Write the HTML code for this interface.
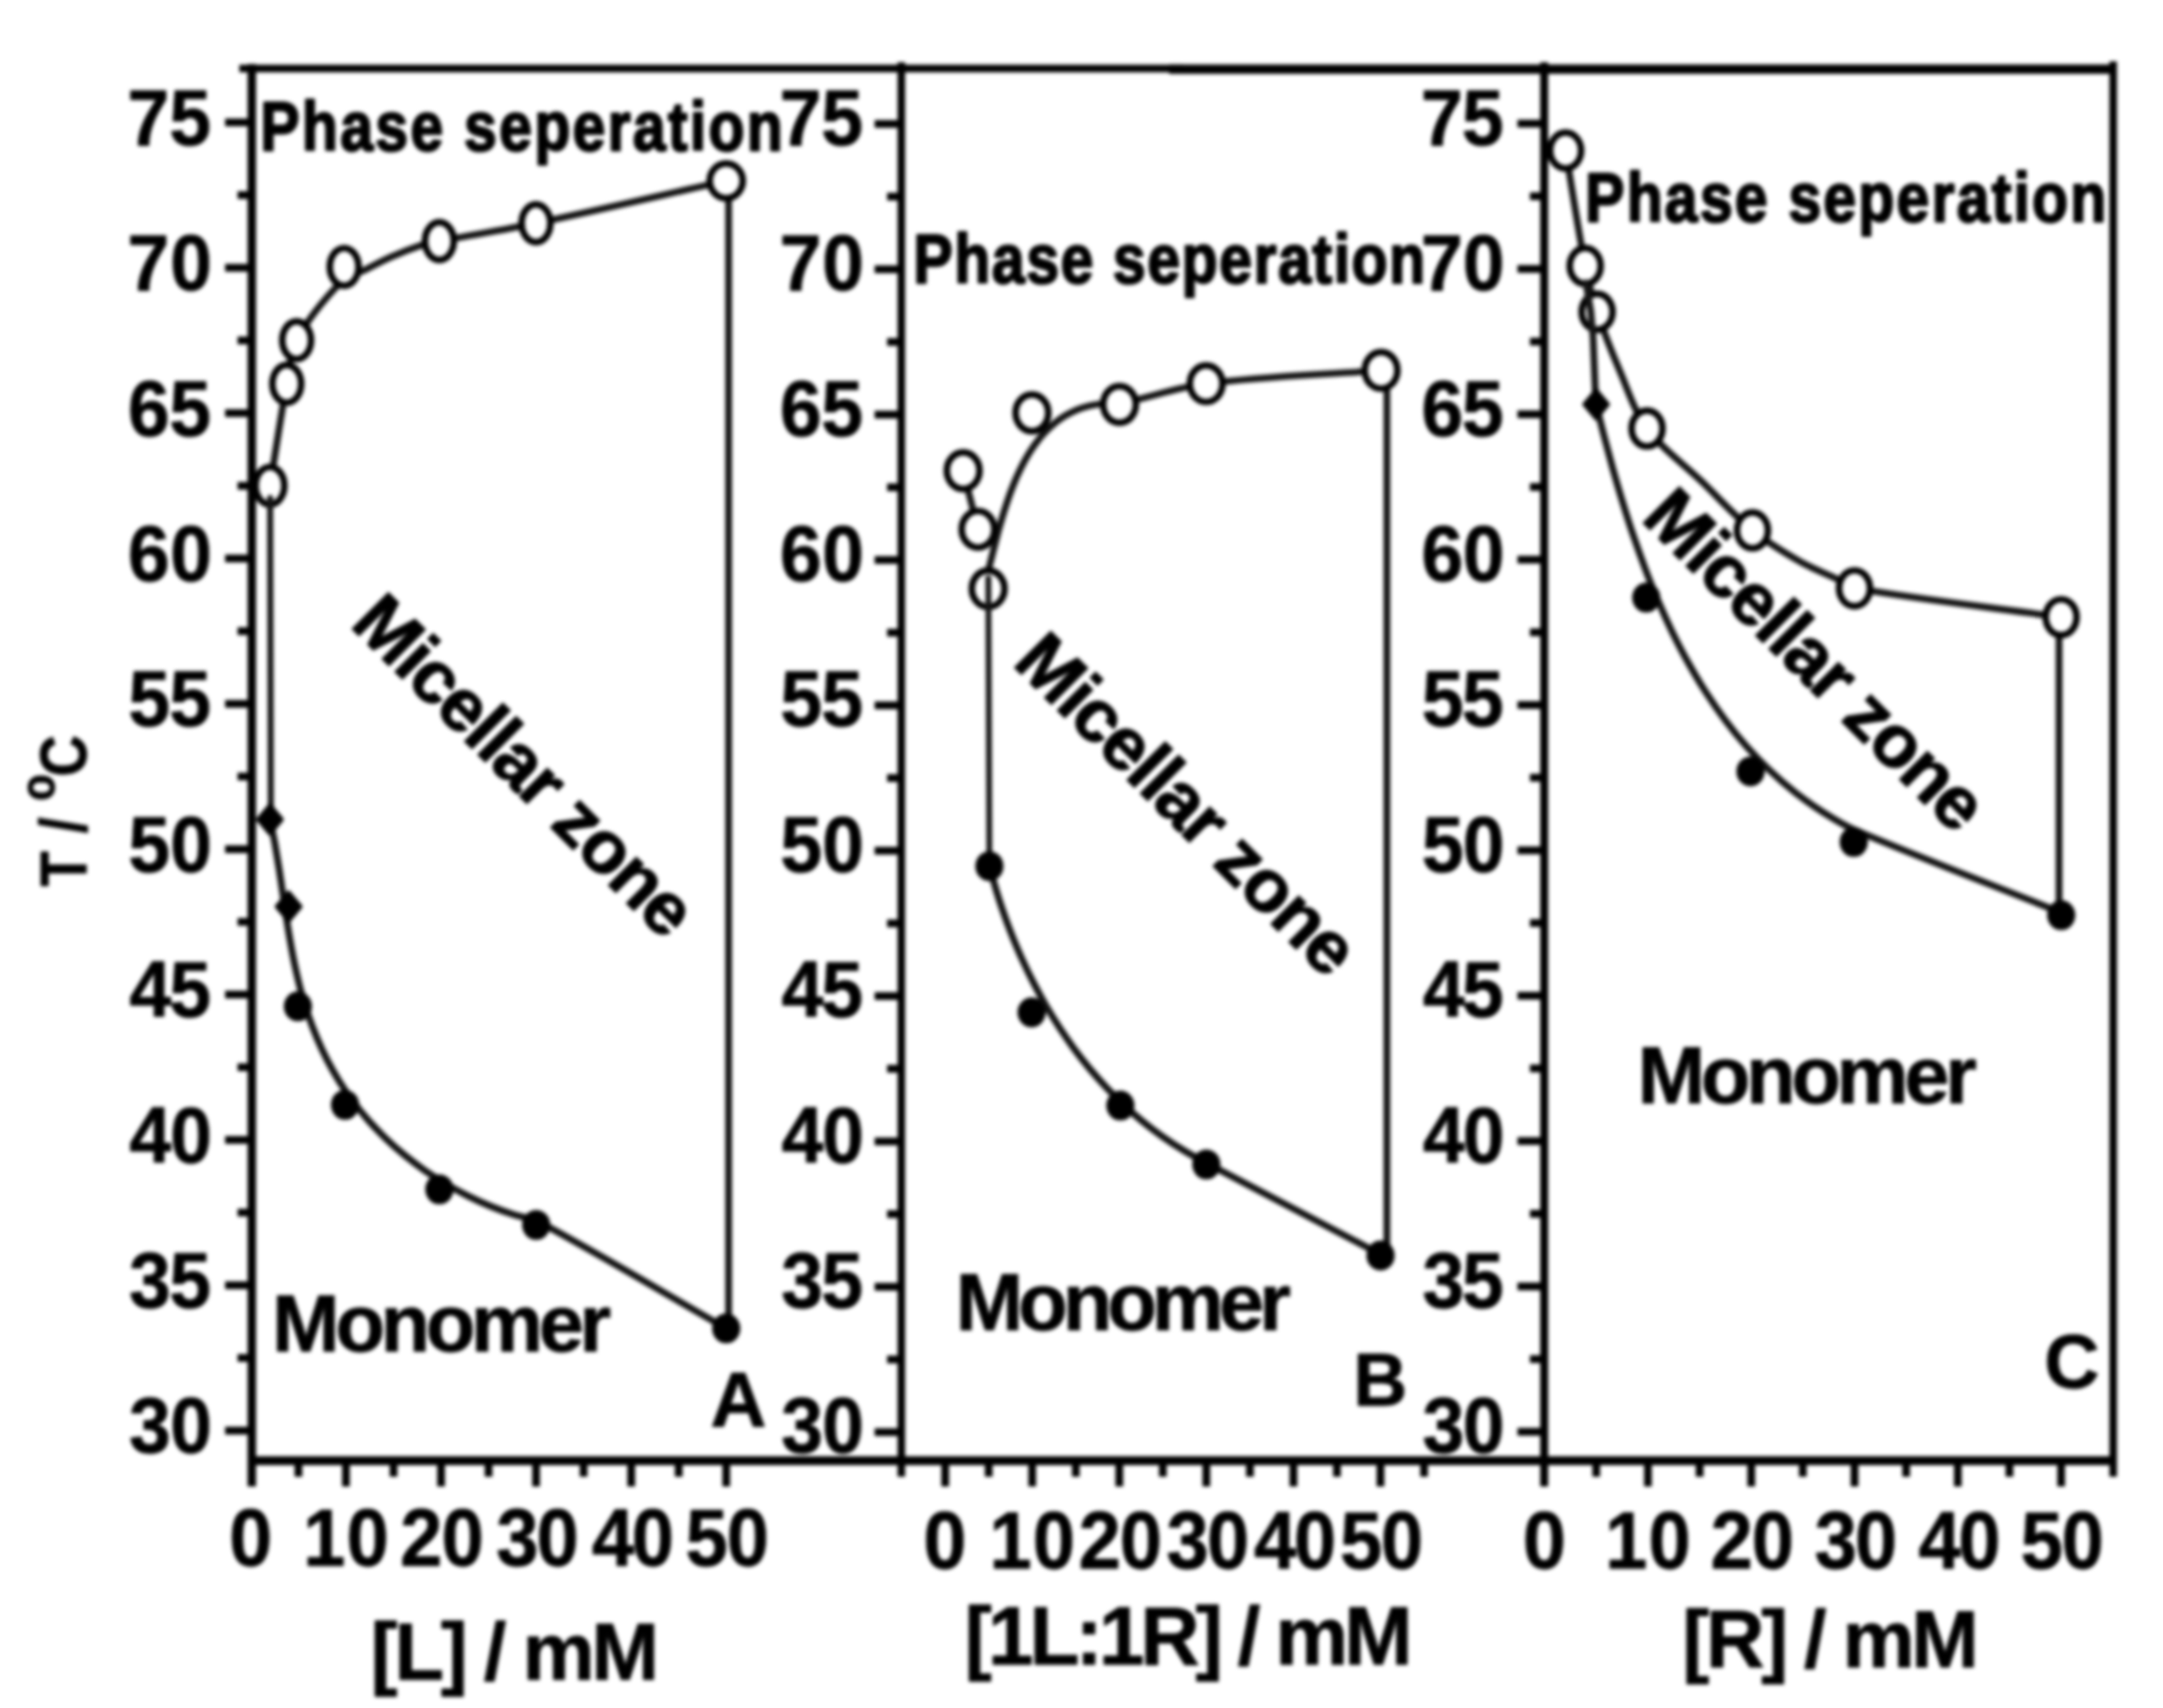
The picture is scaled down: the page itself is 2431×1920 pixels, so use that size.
<!DOCTYPE html>
<html lang="en">
<head>
<meta charset="utf-8">
<title>Phase diagrams: phase separation, micellar zone, monomer</title>
<style>
html,body{margin:0;padding:0;background:#fff;}
body{width:2431px;height:1920px;overflow:hidden;}
svg{display:block;filter:blur(2px);}
</style>
</head>
<body>
<svg width="2431" height="1920" viewBox="0 0 2431 1920">
<rect x="0" y="0" width="2431" height="1920" fill="#fff"/>
<g stroke="#000" fill="none" stroke-linecap="butt">
<line x1="269" y1="77.0" x2="1330" y2="77.0" stroke-width="8.5"/>
<line x1="1314" y1="77.8" x2="2379.0" y2="77.8" stroke-width="10.5"/>
<line x1="279.5" y1="1642.0" x2="2379.0" y2="1642.0" stroke-width="10"/>
<line x1="283" y1="72" x2="283" y2="1671" stroke-width="9.5"/>
<line x1="1013" y1="70" x2="1013" y2="1660" stroke-width="8.5"/>
<line x1="1735.5" y1="70" x2="1735.5" y2="1671" stroke-width="9"/>
<line x1="2375.0" y1="69" x2="2375.0" y2="1660" stroke-width="8.5"/>
</g>
<g stroke="#000" stroke-width="8.7" stroke-linecap="butt">
<line x1="253" y1="1608.2" x2="283" y2="1608.2"/>
<line x1="267" y1="1526.5" x2="283" y2="1526.5"/>
<line x1="253" y1="1444.8" x2="283" y2="1444.8"/>
<line x1="267" y1="1363.1" x2="283" y2="1363.1"/>
<line x1="253" y1="1281.4" x2="283" y2="1281.4"/>
<line x1="267" y1="1199.7" x2="283" y2="1199.7"/>
<line x1="253" y1="1118" x2="283" y2="1118"/>
<line x1="267" y1="1036.3" x2="283" y2="1036.3"/>
<line x1="253" y1="954.6" x2="283" y2="954.6"/>
<line x1="267" y1="872.9" x2="283" y2="872.9"/>
<line x1="253" y1="791.2" x2="283" y2="791.2"/>
<line x1="267" y1="709.5" x2="283" y2="709.5"/>
<line x1="253" y1="627.8" x2="283" y2="627.8"/>
<line x1="267" y1="546.1" x2="283" y2="546.1"/>
<line x1="253" y1="464.4" x2="283" y2="464.4"/>
<line x1="267" y1="382.7" x2="283" y2="382.7"/>
<line x1="253" y1="301" x2="283" y2="301"/>
<line x1="267" y1="219.3" x2="283" y2="219.3"/>
<line x1="253" y1="137.6" x2="283" y2="137.6"/>
<line x1="983" y1="1609.9" x2="1013" y2="1609.9"/>
<line x1="997" y1="1528.2" x2="1013" y2="1528.2"/>
<line x1="983" y1="1446.5" x2="1013" y2="1446.5"/>
<line x1="997" y1="1364.8" x2="1013" y2="1364.8"/>
<line x1="983" y1="1283.1" x2="1013" y2="1283.1"/>
<line x1="997" y1="1201.4" x2="1013" y2="1201.4"/>
<line x1="983" y1="1119.7" x2="1013" y2="1119.7"/>
<line x1="997" y1="1038" x2="1013" y2="1038"/>
<line x1="983" y1="956.3" x2="1013" y2="956.3"/>
<line x1="997" y1="874.6" x2="1013" y2="874.6"/>
<line x1="983" y1="792.9" x2="1013" y2="792.9"/>
<line x1="997" y1="711.2" x2="1013" y2="711.2"/>
<line x1="983" y1="629.5" x2="1013" y2="629.5"/>
<line x1="997" y1="547.8" x2="1013" y2="547.8"/>
<line x1="983" y1="466.1" x2="1013" y2="466.1"/>
<line x1="997" y1="384.4" x2="1013" y2="384.4"/>
<line x1="983" y1="302.7" x2="1013" y2="302.7"/>
<line x1="997" y1="221" x2="1013" y2="221"/>
<line x1="983" y1="139.3" x2="1013" y2="139.3"/>
<line x1="1705.5" y1="1609.5" x2="1735.5" y2="1609.5"/>
<line x1="1719.5" y1="1527.8" x2="1735.5" y2="1527.8"/>
<line x1="1705.5" y1="1446.1" x2="1735.5" y2="1446.1"/>
<line x1="1719.5" y1="1364.4" x2="1735.5" y2="1364.4"/>
<line x1="1705.5" y1="1282.7" x2="1735.5" y2="1282.7"/>
<line x1="1719.5" y1="1201" x2="1735.5" y2="1201"/>
<line x1="1705.5" y1="1119.3" x2="1735.5" y2="1119.3"/>
<line x1="1719.5" y1="1037.6" x2="1735.5" y2="1037.6"/>
<line x1="1705.5" y1="955.9" x2="1735.5" y2="955.9"/>
<line x1="1719.5" y1="874.2" x2="1735.5" y2="874.2"/>
<line x1="1705.5" y1="792.5" x2="1735.5" y2="792.5"/>
<line x1="1719.5" y1="710.8" x2="1735.5" y2="710.8"/>
<line x1="1705.5" y1="629.1" x2="1735.5" y2="629.1"/>
<line x1="1719.5" y1="547.4" x2="1735.5" y2="547.4"/>
<line x1="1705.5" y1="465.7" x2="1735.5" y2="465.7"/>
<line x1="1719.5" y1="384" x2="1735.5" y2="384"/>
<line x1="1705.5" y1="302.3" x2="1735.5" y2="302.3"/>
<line x1="1719.5" y1="220.6" x2="1735.5" y2="220.6"/>
<line x1="1705.5" y1="138.9" x2="1735.5" y2="138.9"/>
<line x1="335.4" y1="1642.0" x2="335.4" y2="1660.0"/>
<line x1="388.8" y1="1642.0" x2="388.8" y2="1671.0"/>
<line x1="442.3" y1="1642.0" x2="442.3" y2="1660.0"/>
<line x1="495.7" y1="1642.0" x2="495.7" y2="1671.0"/>
<line x1="549.1" y1="1642.0" x2="549.1" y2="1660.0"/>
<line x1="602.5" y1="1642.0" x2="602.5" y2="1671.0"/>
<line x1="655.9" y1="1642.0" x2="655.9" y2="1660.0"/>
<line x1="709.4" y1="1642.0" x2="709.4" y2="1671.0"/>
<line x1="762.8" y1="1642.0" x2="762.8" y2="1660.0"/>
<line x1="816.2" y1="1642.0" x2="816.2" y2="1671.0"/>
<line x1="1062.3" y1="1642.0" x2="1062.3" y2="1671.0"/>
<line x1="1111.2" y1="1642.0" x2="1111.2" y2="1660.0"/>
<line x1="1160.1" y1="1642.0" x2="1160.1" y2="1671.0"/>
<line x1="1209.1" y1="1642.0" x2="1209.1" y2="1660.0"/>
<line x1="1258" y1="1642.0" x2="1258" y2="1671.0"/>
<line x1="1306.9" y1="1642.0" x2="1306.9" y2="1660.0"/>
<line x1="1355.8" y1="1642.0" x2="1355.8" y2="1671.0"/>
<line x1="1404.8" y1="1642.0" x2="1404.8" y2="1660.0"/>
<line x1="1453.7" y1="1642.0" x2="1453.7" y2="1671.0"/>
<line x1="1502.6" y1="1642.0" x2="1502.6" y2="1660.0"/>
<line x1="1551.5" y1="1642.0" x2="1551.5" y2="1671.0"/>
<line x1="1600.5" y1="1642.0" x2="1600.5" y2="1660.0"/>
<line x1="1794" y1="1642.0" x2="1794" y2="1660.0"/>
<line x1="1852.1" y1="1642.0" x2="1852.1" y2="1671.0"/>
<line x1="1910.2" y1="1642.0" x2="1910.2" y2="1660.0"/>
<line x1="1968.2" y1="1642.0" x2="1968.2" y2="1671.0"/>
<line x1="2026.2" y1="1642.0" x2="2026.2" y2="1660.0"/>
<line x1="2084.3" y1="1642.0" x2="2084.3" y2="1671.0"/>
<line x1="2142.3" y1="1642.0" x2="2142.3" y2="1660.0"/>
<line x1="2200.4" y1="1642.0" x2="2200.4" y2="1671.0"/>
<line x1="2258.4" y1="1642.0" x2="2258.4" y2="1660.0"/>
<line x1="2316.5" y1="1642.0" x2="2316.5" y2="1671.0"/>
</g>
<g font-family="Liberation Sans, Arial, Helvetica, sans-serif" font-weight="bold" fill="#000" stroke="#000" stroke-width="0.9" stroke-linejoin="round">
<text transform="translate(145,1633.3) scale(0.94,1)" font-size="89.8" letter-spacing="-0.77">30</text>
<text transform="translate(145,1469.9) scale(0.94,1)" font-size="89.8" letter-spacing="-1.89">35</text>
<text transform="translate(145.6,1306.5) scale(0.94,1)" font-size="89.8" letter-spacing="-1.44">40</text>
<text transform="translate(145.6,1143.1) scale(0.94,1)" font-size="89.8" letter-spacing="-2.56">45</text>
<text transform="translate(144.2,979.7) scale(0.94,1)" font-size="89.8" letter-spacing="0.13">50</text>
<text transform="translate(144.2,816.3) scale(0.94,1)" font-size="89.8" letter-spacing="-0.99">55</text>
<text transform="translate(143.7,652.9) scale(0.94,1)" font-size="89.8" letter-spacing="0.58">60</text>
<text transform="translate(143.7,489.5) scale(0.94,1)" font-size="89.8" letter-spacing="-0.54">65</text>
<text transform="translate(143.3,326.1) scale(0.94,1)" font-size="89.8" letter-spacing="1.03">70</text>
<text transform="translate(143.3,162.7) scale(0.94,1)" font-size="89.8" letter-spacing="-0.09">75</text>
<text transform="translate(877.9,1633.3) scale(0.94,1)" font-size="89.8" letter-spacing="-0.87">30</text>
<text transform="translate(877.9,1469.9) scale(0.94,1)" font-size="89.8" letter-spacing="-2.00">35</text>
<text transform="translate(878.5,1306.5) scale(0.94,1)" font-size="89.8" letter-spacing="-1.55">40</text>
<text transform="translate(878.5,1143.1) scale(0.94,1)" font-size="89.8" letter-spacing="-2.67">45</text>
<text transform="translate(877.1,979.7) scale(0.94,1)" font-size="89.8" letter-spacing="0.02">50</text>
<text transform="translate(877.1,816.3) scale(0.94,1)" font-size="89.8" letter-spacing="-1.10">55</text>
<text transform="translate(876.6,652.9) scale(0.94,1)" font-size="89.8" letter-spacing="0.47">60</text>
<text transform="translate(876.6,489.5) scale(0.94,1)" font-size="89.8" letter-spacing="-0.65">65</text>
<text transform="translate(876.2,326.1) scale(0.94,1)" font-size="89.8" letter-spacing="0.92">70</text>
<text transform="translate(876.2,162.7) scale(0.94,1)" font-size="89.8" letter-spacing="-0.20">75</text>
<text transform="translate(1598.7,1633.3) scale(0.94,1)" font-size="89.8" letter-spacing="-1.73">30</text>
<text transform="translate(1598.7,1469.9) scale(0.94,1)" font-size="89.8" letter-spacing="-2.85">35</text>
<text transform="translate(1599.3,1306.5) scale(0.94,1)" font-size="89.8" letter-spacing="-2.40">40</text>
<text transform="translate(1599.3,1143.1) scale(0.94,1)" font-size="89.8" letter-spacing="-3.52">45</text>
<text transform="translate(1597.9,979.7) scale(0.94,1)" font-size="89.8" letter-spacing="-0.83">50</text>
<text transform="translate(1597.9,816.3) scale(0.94,1)" font-size="89.8" letter-spacing="-1.95">55</text>
<text transform="translate(1597.4,652.9) scale(0.94,1)" font-size="89.8" letter-spacing="-0.38">60</text>
<text transform="translate(1597.4,489.5) scale(0.94,1)" font-size="89.8" letter-spacing="-1.50">65</text>
<text transform="translate(1597,326.1) scale(0.94,1)" font-size="89.8" letter-spacing="0.07">70</text>
<text transform="translate(1597,162.7) scale(0.94,1)" font-size="89.8" letter-spacing="-1.05">75</text>
<text transform="translate(257.5,1760.1) scale(0.96,1)" font-size="90.8" letter-spacing="0.00">0</text>
<text transform="translate(340.7,1760.1) scale(0.94,1)" font-size="90.8" letter-spacing="1.39">10</text>
<text transform="translate(449.8,1760.1) scale(0.94,1)" font-size="90.8" letter-spacing="-1.11">20</text>
<text transform="translate(557.7,1760.1) scale(0.94,1)" font-size="90.8" letter-spacing="-2.24">30</text>
<text transform="translate(665.2,1760.1) scale(0.94,1)" font-size="90.8" letter-spacing="-2.92">40</text>
<text transform="translate(770.6,1760.1) scale(0.94,1)" font-size="90.8" letter-spacing="-1.33">50</text>
<text transform="translate(1037.8,1762.6) scale(0.96,1)" font-size="90.8" letter-spacing="0.00">0</text>
<text transform="translate(1112,1762.6) scale(0.94,1)" font-size="90.8" letter-spacing="1.39">10</text>
<text transform="translate(1212.2,1762.6) scale(0.94,1)" font-size="90.8" letter-spacing="-1.11">20</text>
<text transform="translate(1311.1,1762.6) scale(0.94,1)" font-size="90.8" letter-spacing="-2.24">30</text>
<text transform="translate(1409.6,1762.6) scale(0.94,1)" font-size="90.8" letter-spacing="-2.92">40</text>
<text transform="translate(1505.9,1762.6) scale(0.94,1)" font-size="90.8" letter-spacing="-1.33">50</text>
<text transform="translate(1711.5,1762.6) scale(0.96,1)" font-size="90.8" letter-spacing="0.00">0</text>
<text transform="translate(1803.9,1762.6) scale(0.94,1)" font-size="90.8" letter-spacing="1.39">10</text>
<text transform="translate(1922.4,1762.6) scale(0.94,1)" font-size="90.8" letter-spacing="-1.11">20</text>
<text transform="translate(2039.5,1762.6) scale(0.94,1)" font-size="90.8" letter-spacing="-2.24">30</text>
<text transform="translate(2156.3,1762.6) scale(0.94,1)" font-size="90.8" letter-spacing="-2.92">40</text>
<text transform="translate(2270.9,1762.6) scale(0.94,1)" font-size="90.8" letter-spacing="-1.33">50</text>
<text transform="translate(416.6,1888.2)" font-size="91.3" letter-spacing="-3.67">[L] / mM</text>
<text transform="translate(1084,1870.7)" font-size="92.3" letter-spacing="-4.56">[1L:1R] / mM</text>
<text transform="translate(1890.7,1874.1)" font-size="91.3" letter-spacing="-3.80">[R] / mM</text>
<text transform="translate(97,996.6) rotate(-90) scale(0.88,1)" font-size="73.4">T<tspan x="47.7"> / </tspan><tspan x="109.5" dy="-36.5" font-size="56">o</tspan><tspan x="140.5" dy="36.5">C</tspan></text>
<text transform="translate(292.6,168.7) scale(0.85,1)" font-size="78" letter-spacing="3.00" stroke-width="2.5">Phase seperation</text>
<text transform="translate(1026.6,317.8) scale(0.85,1)" font-size="78" letter-spacing="2.06" stroke-width="2.5">Phase seperation</text>
<text transform="translate(1781.5,248.7) scale(0.85,1)" font-size="78" letter-spacing="2.89" stroke-width="2.5">Phase seperation</text>
<text transform="translate(305.8,1519.2)" font-size="91.3" letter-spacing="-4.97">Monomer</text>
<text transform="translate(1073.9,1495.1)" font-size="91.3" letter-spacing="-5.67">Monomer</text>
<text transform="translate(1840.4,1240.1)" font-size="91.3" letter-spacing="-4.92">Monomer</text>
<text transform="translate(798.6,1603.3)" font-size="87" letter-spacing="0.00">A</text>
<text transform="translate(1521,1579.6)" font-size="84" letter-spacing="0.00">B</text>
<text transform="translate(2297.4,1559.8)" font-size="86" letter-spacing="0.00">C</text>
<text transform="translate(392,703) rotate(45)" font-size="83.5" letter-spacing="-1.80" stroke-width="1.6">Micellar zone</text>
<text transform="translate(1136.5,746.5) rotate(45)" font-size="83.5" letter-spacing="-1.80" stroke-width="1.6">Micellar zone</text>
<text transform="translate(1843,584) rotate(45)" font-size="83.5" letter-spacing="-1.80" stroke-width="1.6">Micellar zone</text>
</g>
<g stroke="#141414" stroke-width="7.6" fill="none" stroke-linejoin="round" stroke-linecap="round">
<path d="M303.4 546.1 C309.7 507.9 315.3 469.5 322.3 431.4 C325.3 414.9 325.5 397.2 333.4 382.4 C346.4 358.1 364.4 336.5 383.6 316.7 C390.5 309.6 401.3 307.8 410.2 303.4 C419.8 298.6 429.2 293.3 439.1 289 C450.4 284.1 461.9 279.6 473.6 275.7 C480.2 273.5 487 272.3 493.8 271 C530 264.1 566.4 258.6 602.4 251 C673.9 236 744.9 219.2 816.2 203.3"/>
<path d="M303.4 921.1 C305.2 930.1 307.2 939 308.9 948 C310.5 957.1 312 966.3 313.5 975.5 C314.9 984.7 316.3 994 317.6 1003.2 C319 1012.5 320.4 1021.9 321.8 1031.2 C323.3 1040.5 324.7 1049.8 326.4 1059.1 C328 1068.3 329.7 1077.6 331.7 1086.7 C333.7 1095.9 335.8 1105 338.2 1114 C340.7 1123 343.3 1131.9 346.3 1140.7 C349.3 1149.5 352.6 1158.1 356.2 1166.7 C359.8 1175.2 363.6 1183.5 367.8 1191.7 C372.1 1199.9 376.6 1207.9 381.4 1215.7 C386.3 1223.6 391.5 1231.2 397 1238.6 C402.6 1246 408.4 1253.2 414.6 1260.1 C420.8 1267 427.2 1273.7 434 1280.2 C440.7 1286.7 447.8 1292.9 455 1298.8 C462.3 1304.7 469.8 1310.4 477.5 1315.8 C485.2 1321.1 493.2 1326.2 501.3 1331 C509.4 1335.8 517.7 1340.3 526.1 1344.5 C534.5 1348.7 543.1 1352.6 551.8 1356.1 C560.5 1359.6 569.3 1362.8 578.2 1365.7 C587.1 1368.5 596.9 1368.8 605.1 1373.2 C676.5 1411.4 745.8 1453.3 816.2 1493.3"/>
<line x1="818.9" y1="222" x2="818.9" y2="1490"/>
<line x1="1082.5" y1="529.1" x2="1099.2" y2="595"/>
<path d="M1110.6 642 C1111.8 637.3 1113 632.5 1114.2 627.8 C1115.4 622.9 1116.6 617.9 1117.9 613 C1119.2 608 1120.5 602.9 1121.8 597.8 C1123.2 592.7 1124.7 587.6 1126.2 582.5 C1127.7 577.3 1129.3 572.2 1131 567.1 C1132.7 562 1134.4 556.9 1136.3 551.9 C1138.2 546.9 1140.2 541.9 1142.3 537 C1144.5 532.2 1146.7 527.5 1149.1 522.8 C1151.5 518.2 1154 513.7 1156.7 509.3 C1159.3 505.1 1162.1 500.9 1165.2 496.9 C1168.1 492.9 1171.3 489.1 1174.7 485.6 C1178 482.1 1181.5 478.7 1185.3 475.7 C1189 472.6 1193 469.8 1197.1 467.3 C1201.3 464.8 1205.7 462.6 1210.2 460.7 C1214.9 458.8 1219.8 457.3 1224.7 456.1 C1230 454.9 1235.3 454.1 1240.7 453.7 C1246.5 453.2 1252.5 454.7 1258.3 453.6 C1290.9 447.2 1322.6 435.5 1355.6 431.3 C1420.8 423 1486.7 421.3 1552.2 416.3"/>
<path d="M1112 973.7 C1114.6 982.7 1116.9 991.8 1119.7 1000.8 C1122.4 1009.8 1125.3 1018.8 1128.5 1027.7 C1131.6 1036.7 1135 1045.5 1138.5 1054.3 C1142.1 1063.1 1145.8 1071.9 1149.8 1080.5 C1153.7 1089.1 1157.9 1097.7 1162.2 1106.1 C1166.6 1114.6 1171.1 1122.9 1175.9 1131.1 C1180.7 1139.3 1185.7 1147.4 1190.8 1155.3 C1196 1163.2 1201.4 1171 1207 1178.7 C1212.6 1186.3 1218.4 1193.7 1224.4 1201 C1230.5 1208.2 1236.7 1215.3 1243.1 1222.2 C1249.6 1229 1256.2 1235.7 1263.1 1242.1 C1270 1248.6 1277 1254.8 1284.3 1260.7 C1291.6 1266.7 1299.1 1272.4 1306.8 1277.9 C1314.6 1283.4 1322.5 1288.6 1330.7 1293.4 C1338.9 1298.4 1347.3 1302.8 1355.8 1307.3 C1421 1341.7 1486.3 1375.8 1551.6 1410"/>
<line x1="1558.7" y1="436" x2="1558.7" y2="1400"/>
<path d="M1759.6 169.2 C1766.9 212.5 1773.2 255.9 1781.6 299 C1785 316.4 1789.4 333.7 1795 350.5 C1802.4 373 1811.2 395.2 1820.5 417 C1829.9 438.9 1836.9 462.5 1851.1 481.7 C1868.1 504.6 1892.1 521.5 1912.6 541.3 C1931.6 559.6 1949.1 579.6 1969.6 596.2 C1986.3 609.8 2004.9 620.8 2023.5 631.5 C2037.1 639.3 2052.1 644.6 2066.2 651.5 C2072.4 654.5 2077.5 660.2 2084.3 661.3 C2161.4 674.3 2239.1 683 2316.5 693.8"/>
<path d="M1793.9 454.5 C1796.9 466.6 1799.9 478.8 1803 490.9 C1806.2 503.2 1809.5 515.5 1812.9 527.8 C1816.4 540.2 1820 552.6 1823.8 564.9 C1827.6 577.4 1831.5 589.8 1835.7 602.1 C1839.9 614.4 1844.3 626.7 1848.9 639 C1853.5 651.2 1858.3 663.3 1863.5 675.3 C1868.6 687.3 1873.9 699.1 1879.6 710.8 C1885.3 722.4 1891.2 733.9 1897.5 745.2 C1903.8 756.5 1910.3 767.5 1917.3 778.3 C1924.2 789 1931.4 799.5 1939.1 809.7 C1946.7 819.9 1954.7 829.8 1963.1 839.3 C1971.5 848.8 1980.3 857.9 1989.5 866.6 C1998.7 875.4 2008.4 883.7 2018.4 891.5 C2028.6 899.4 2039.1 906.9 2050 913.7 C2061.1 920.7 2072.3 927.8 2084.4 932.9 C2161.2 965.2 2239.1 994.8 2316.4 1025.8"/>
<line x1="2314.2" y1="714" x2="2314.2" y2="1014"/>
</g>
<g stroke="#000" stroke-width="7.4" fill="#fff">
<ellipse cx="303.4" cy="546.1" rx="16.2" ry="21.2"/>
<ellipse cx="322.3" cy="431.4" rx="16.2" ry="21.2"/>
<ellipse cx="333.4" cy="382.4" rx="16.2" ry="21.2"/>
<ellipse cx="386.8" cy="300.1" rx="16.2" ry="21.2"/>
<ellipse cx="493.8" cy="271" rx="16.2" ry="21.2"/>
<ellipse cx="602.4" cy="251" rx="16.2" ry="21.2"/>
<ellipse cx="816.2" cy="203.3" rx="18.6" ry="19.6"/>
<ellipse cx="1082.5" cy="529.1" rx="18.4" ry="20.6"/>
<ellipse cx="1099.2" cy="595" rx="18.4" ry="20.6"/>
<ellipse cx="1110.6" cy="661.8" rx="18.4" ry="20.6"/>
<ellipse cx="1159.8" cy="464.1" rx="18.4" ry="20.6"/>
<ellipse cx="1258.2" cy="454.6" rx="18.4" ry="20.6"/>
<ellipse cx="1355.6" cy="431.3" rx="18.4" ry="20.6"/>
<ellipse cx="1552.2" cy="416.3" rx="18.4" ry="20.6"/>
<ellipse cx="1759.6" cy="169.2" rx="17.4" ry="20.2"/>
<ellipse cx="1781.6" cy="299" rx="17.4" ry="20.2"/>
<ellipse cx="1795" cy="350.5" rx="17.4" ry="20.2"/>
<ellipse cx="1851.1" cy="481.7" rx="17.4" ry="20.2"/>
<ellipse cx="1969.6" cy="596.2" rx="17.4" ry="20.2"/>
<ellipse cx="2084.3" cy="661.3" rx="17.4" ry="20.2"/>
<ellipse cx="2316.5" cy="693.8" rx="17.4" ry="20.2"/>
</g>
<g stroke="#141414" stroke-width="7.6" fill="none" stroke-linejoin="round" stroke-linecap="round">
<line x1="303.6" y1="560" x2="304.4" y2="921" stroke-width="6.8"/>
<line x1="1110.8" y1="650" x2="1112" y2="973" stroke-width="6.5"/>
<path d="M1782.5 318 L1787.9 350 L1790.5 380 L1793.5 454"/>
</g>
<g fill="#000">
<path d="M303.4 905.6 l13 15.5 l-13 15.5 l-13 -15.5 z" stroke="#000" stroke-width="5" stroke-linejoin="round"/>
<path d="M324.4 1003.6 l13 15.5 l-13 15.5 l-13 -15.5 z" stroke="#000" stroke-width="5" stroke-linejoin="round"/>
<ellipse cx="334.8" cy="1131.3" rx="15.8" ry="16.8"/>
<ellipse cx="387.8" cy="1242" rx="15.8" ry="16.8"/>
<ellipse cx="493.8" cy="1337" rx="15.8" ry="16.8"/>
<ellipse cx="602.6" cy="1377" rx="15.8" ry="16.8"/>
<ellipse cx="816.2" cy="1493.3" rx="15.8" ry="16.8"/>
<ellipse cx="1112" cy="973.7" rx="15.8" ry="16.8"/>
<ellipse cx="1159.4" cy="1138.1" rx="15.8" ry="16.8"/>
<ellipse cx="1259.2" cy="1242.8" rx="15.8" ry="16.8"/>
<ellipse cx="1355.8" cy="1309" rx="15.8" ry="16.8"/>
<ellipse cx="1551.6" cy="1411.4" rx="15.8" ry="16.8"/>
<path d="M1793.9 439 l13 15.5 l-13 15.5 l-13 -15.5 z" stroke="#000" stroke-width="5" stroke-linejoin="round"/>
<ellipse cx="1850.2" cy="671.8" rx="15.8" ry="16.8"/>
<ellipse cx="1967.4" cy="867.2" rx="15.8" ry="16.8"/>
<ellipse cx="2083.4" cy="946.5" rx="15.8" ry="16.8"/>
<ellipse cx="2316.6" cy="1028.8" rx="15.8" ry="16.8"/>
</g>
</svg>
</body>
</html>
